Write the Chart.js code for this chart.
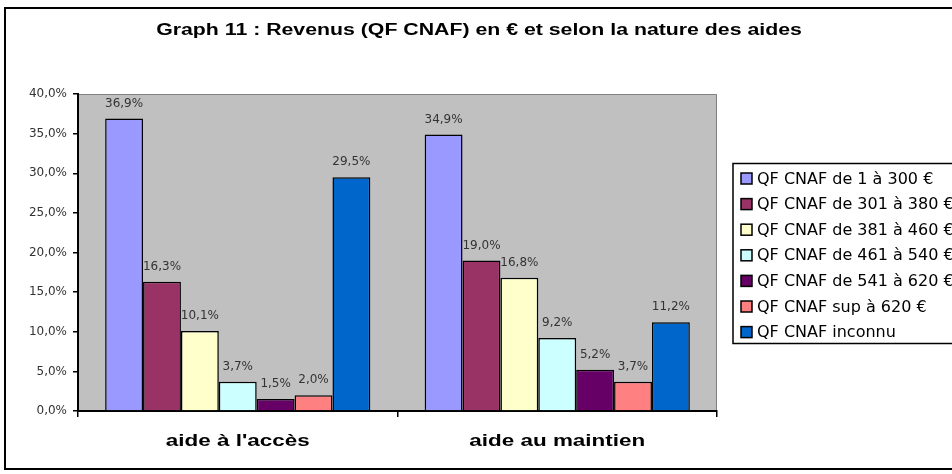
<!DOCTYPE html>
<html>
<head>
<meta charset="utf-8">
<script src="https://cdn.jsdelivr.net/npm/chart.js@4.4.0/dist/chart.umd.min.js"></script>
<style>
  html, body { margin: 0; padding: 0; background: #fff; }
  #wrap { width: 952px; height: 474px; position: relative; }
</style>
</head>
<body>
<div id="wrap"><canvas id="graphChart" width="952" height="474"></canvas></div>
<script>
// data
const categories = ["aide à l'accès", "aide au maintien"];
const seriesNames = [
  "QF CNAF de 1 à 300 €",
  "QF CNAF de 301 à 380 €",
  "QF CNAF de 381 à 460 €",
  "QF CNAF de 461 à 540 €",
  "QF CNAF de 541 à 620 €",
  "QF CNAF sup à 620 €",
  "QF CNAF inconnu"
];
const accesValues   = [36.9, 16.3, 10.1, 3.7, 1.5, 2.0, 29.5];
const maintienValues = [34.9, 19.0, 16.8, 9.2, 5.2, 3.7, 11.2];
const seriesColors = ["#9999FF", "#993366", "#FFFFCC", "#CCFFFF", "#660066", "#FF8080", "#0066CC"];
const yTicks = [0, 5, 10, 15, 20, 25, 30, 35, 40];
const chartTitle = "Graph 11 : Revenus (QF CNAF) en € et selon la nature des aides";

function pct(v) { return v.toFixed(1).replace('.', ',') + '%'; }

const datasets = seriesNames.map(function (name, i) {
  return {
    label: name,
    data: [accesValues[i], maintienValues[i]],
    backgroundColor: seriesColors[i],
    borderColor: "#000",
    borderWidth: 1.5,
    borderSkipped: 'bottom'
  };
});

// text drawn horizontally stretched, like the original export
function wideText(c, txt, x, y, sx) {
  c.save();
  c.translate(x, y);
  c.scale(sx, 1);
  c.fillText(txt, 0, 0);
  c.restore();
}

// gray plot area, outer frame, title, value labels, legend
const framePlugin = {
  id: 'frame',
  beforeDraw(chart) {
    const c = chart.ctx, a = chart.chartArea;
    c.save();
    c.fillStyle = '#fff';
    c.fillRect(0, 0, chart.width, chart.height);
    c.fillStyle = '#C0C0C0';
    c.fillRect(a.left, a.top, a.right - a.left, a.bottom - a.top);
    c.strokeStyle = '#808080';
    c.lineWidth = 1;
    c.beginPath();
    c.moveTo(a.left, a.top + 0.5);
    c.lineTo(a.right - 0.5, a.top + 0.5);
    c.lineTo(a.right - 0.5, a.bottom);
    c.stroke();
    // outer border
    c.strokeStyle = '#000';
    c.lineWidth = 2;
    c.strokeRect(5, 8, 960, 461);
    // title
    c.fillStyle = '#000';
    c.font = 'bold 16px "Liberation Sans", Arial, sans-serif';
    c.textAlign = 'center';
    c.textBaseline = 'middle';
    wideText(c, chartTitle, 479, 31, 1.33);
    // category labels
    c.font = 'bold 17px "Liberation Sans", Arial, sans-serif';
    const xs = chart.scales.x;
    categories.forEach(function (cat, i) {
      wideText(c, cat, xs.getPixelForValue(i), 441, 1.32);
    });
    c.restore();
  },
  afterDatasetsDraw(chart) {
    const c = chart.ctx;
    c.save();
    c.font = '12px "DejaVu Sans", Verdana, sans-serif';
    c.fillStyle = '#333';
    c.textAlign = 'center';
    c.textBaseline = 'middle';
    chart.data.datasets.forEach(function (ds, i) {
      chart.getDatasetMeta(i).data.forEach(function (bar, j) {
        c.fillText(pct(ds.data[j]), bar.x, bar.y - 15);
      });
    });
    // legend
    c.strokeStyle = '#000';
    c.lineWidth = 1.5;
    c.strokeRect(733, 163.5, 240, 180);
    c.font = '16px "DejaVu Sans", Verdana, sans-serif';
    c.textAlign = 'left';
    chart.data.datasets.forEach(function (ds, i) {
      const y = 178.5 + i * 25.6;
      c.fillStyle = ds.backgroundColor;
      c.fillRect(741, y - 5.5, 11, 11);
      c.strokeStyle = '#000';
      c.lineWidth = 1.5;
      c.strokeRect(741, y - 5.5, 11, 11);
      c.fillStyle = '#000';
      c.fillText(ds.label, 757, y + 1);
    });
    c.restore();
  }
};

new Chart(document.getElementById('graphChart').getContext('2d'), {
  type: 'bar',
  data: { labels: categories, datasets: datasets },
  plugins: [framePlugin],
  options: {
    responsive: false,
    animation: false,
    layout: { padding: { left: 0, right: 235, top: 94, bottom: 0 } },
    plugins: {
      legend: { display: false },
      title: { display: false },
      tooltip: { enabled: false }
    },
    datasets: { bar: { categoryPercentage: 0.83, barPercentage: 1.0 } },
    scales: {
      x: {
        afterFit: function (s) { s.height = 63; },
        grid: { drawOnChartArea: false, color: '#000', tickLength: 6, lineWidth: 1.5 },
        border: { color: '#000', width: 2 },
        ticks: { display: false }
      },
      y: {
        min: 0,
        max: 40,
        afterFit: function (s) { s.width = 78; },
        afterBuildTicks: function (s) { s.ticks = yTicks.map(function (v) { return { value: v }; }); },
        grid: { drawOnChartArea: false, color: '#000', tickLength: 5, lineWidth: 1.5 },
        border: { color: '#000', width: 2 },
        ticks: {
          padding: 6,
          color: '#333',
          font: { family: '"DejaVu Sans", Verdana, sans-serif', size: 12 },
          callback: function (v) { return pct(v); }
        }
      }
    }
  }
});
</script>
</body>
</html>
